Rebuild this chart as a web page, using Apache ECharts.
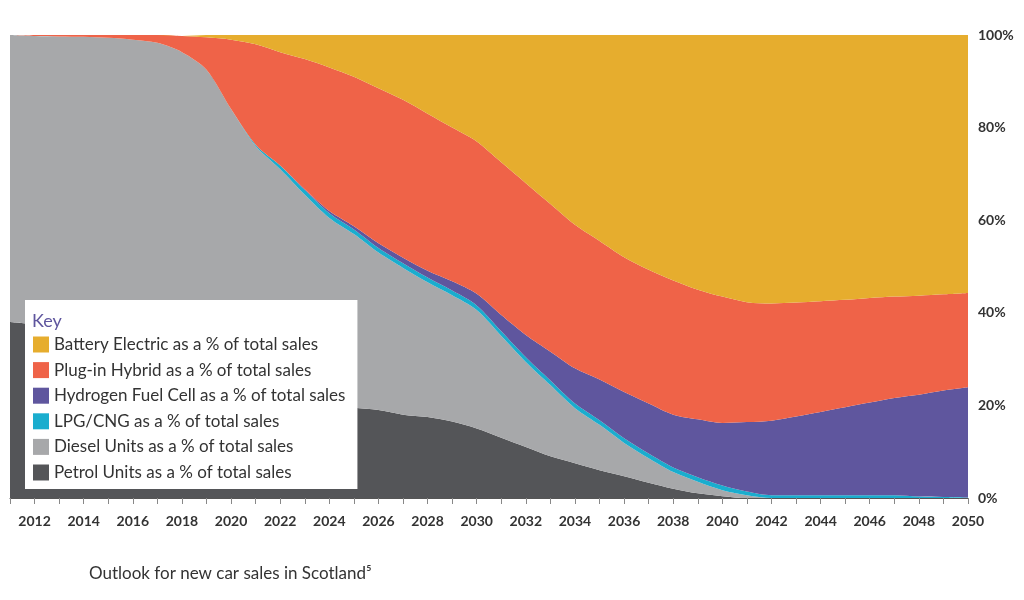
<!DOCTYPE html>
<html>
<head>
<meta charset="utf-8">
<script src="https://cdn.jsdelivr.net/npm/echarts@6/dist/echarts.min.js"></script>
<style>
  html, body { margin: 0; padding: 0; background: #fff; }
  #main { width: 1024px; height: 600px; }
</style>
</head>
<body>
<div id="main"></div>
<script>
// years 2011..2050
var years = [];
for (var y = 2011; y <= 2050; y++) years.push(String(y));

var petrol = [38, 37.5, 37, 36, 35, 34, 32, 30, 28, 26, 24, 22, 21, 20, 19.5, 19, 18, 17.5, 16.5, 15,
  13, 11, 9, 7.5, 6, 4.7, 3.3, 2, 1, 0.4, 0, 0, 0, 0, 0, 0, 0, 0, 0, 0];
var diesel = [62, 62.3, 62.7, 63.6, 64.4, 65, 66.3, 66.3, 64.5, 58, 52, 49, 44.5, 40.5, 37.5, 34, 31.7, 29.1, 27.3, 25.6,
  22, 18.4, 15.4, 11.9, 9.8, 7.2, 5.3, 3.6, 2.5, 1.3, 0.6, 0, 0, 0, 0, 0, 0, 0, 0, 0];
var lpg = [0, 0, 0, 0, 0, 0, 0, 0, 0, 0, 0.3, 0.8, 1, 1, 1, 1, 1, 1, 1, 1,
  1, 1, 1, 1, 1, 1, 1, 1, 1, 1, 0.8, 0.6, 0.6, 0.6, 0.6, 0.6, 0.6, 0.3, 0.2, 0.1];
var hydrogen = [0, 0, 0, 0, 0, 0, 0, 0, 0, 0, 0, 0, 0.2, 0.5, 0.7, 1, 1.2, 1.5, 2, 2.5,
  3.5, 4.8, 6.2, 7.6, 8.8, 10, 10.8, 11.4, 12.5, 13.5, 15, 16.1, 17, 18, 19, 20, 21, 22, 23, 23.8];
var plugin = [0, 0.2, 0.3, 0.4, 0.6, 1, 1.7, 3.5, 7, 15, 21.7, 24.5, 28.1, 31, 32.3, 33.5, 34.1, 33.9, 33.2, 32.9,
  33, 32.8, 31.9, 31, 29.9, 29.1, 28.9, 29, 28, 27.3, 25.9, 25.3, 24.6, 23.9, 23.2, 22.6, 21.9, 21.4, 20.8, 20.4];
var battery = [0, 0, 0, 0, 0, 0, 0, 0, 0.5, 1, 2, 3.7, 5.2, 7, 9, 11.5, 14, 17, 20, 23,
  27.5, 32, 36.5, 41, 44.5, 48, 50.7, 53, 55, 56.5, 57.7, 58, 57.8, 57.5, 57.2, 56.8, 56.5, 56.3, 56, 55.7];

var names = [
  'Battery Electric as a % of total sales',
  'Plug-in Hybrid as a % of total sales',
  'Hydrogen Fuel Cell as a % of total sales',
  'LPG/CNG as a % of total sales',
  'Diesel Units as a % of total sales',
  'Petrol Units as a % of total sales'
];
var colors = ['#E6AD2E', '#EF6348', '#5F569E', '#1AADCE', '#A7A8AA', '#545558'];
var values = [battery, plugin, hydrogen, lpg, diesel, petrol];

var chart = echarts.init(document.getElementById('main'));

// draw bottom to top
var series = [];
for (var i = values.length - 1; i >= 0; i--) {
  series.push({
    name: names[i],
    type: 'line',
    stack: 'all',
    smooth: 0.3,
    symbol: 'none',
    lineStyle: { width: 0 },
    areaStyle: { color: colors[i], opacity: 1 },
    itemStyle: { color: colors[i] },
    data: values[i]
  });
}

var option = {
  animation: false,
  textStyle: { fontFamily: 'Lato' },
  grid: { left: 10, right: 56, top: 35, bottom: 102 },
  title: {
    text: 'Outlook for new car sales in Scotland\u2075',
    left: 84, top: 560,
    textStyle: { fontSize: 17, fontWeight: 'normal', color: '#333', fontFamily: 'Lato' }
  },
  graphic: [{
    type: 'text', left: 32, top: 312, z: 100,
    style: { text: 'Key', fill: '#5F569E', fontSize: 18, fontFamily: 'Lato' }
  }],
  legend: {
    data: names,
    orient: 'vertical',
    left: 25, top: 300,
    width: 362,
    backgroundColor: '#fff',
    padding: [36, 12, 8, 8],
    itemWidth: 16, itemHeight: 16, itemGap: 8.6,
    icon: 'rect',
    textStyle: { fontSize: 17, color: '#333', fontFamily: 'Lato', padding: [0, 10, 0, 0] }
  },
  xAxis: {
    type: 'category',
    data: years,
    boundaryGap: false,
    axisLine: { lineStyle: { color: '#555', width: 1 } },
    axisTick: { show: true, interval: 0, length: 6, lineStyle: { color: '#888' } },
    axisLabel: {
      interval: function (idx, val) { return Number(val) % 2 === 0; },
      fontSize: 14, fontWeight: 'bold', color: '#333', margin: 16
    }
  },
  yAxis: {
    type: 'value',
    position: 'right',
    min: 0, max: 100, interval: 20,
    splitLine: { show: false },
    axisLine: { show: false },
    axisTick: { show: false },
    axisLabel: { formatter: '{value}%', fontSize: 14, fontWeight: 'bold', color: '#333', margin: 10 }
  },
  series: series
};

chart.setOption(option);
</script>
</body>
</html>
